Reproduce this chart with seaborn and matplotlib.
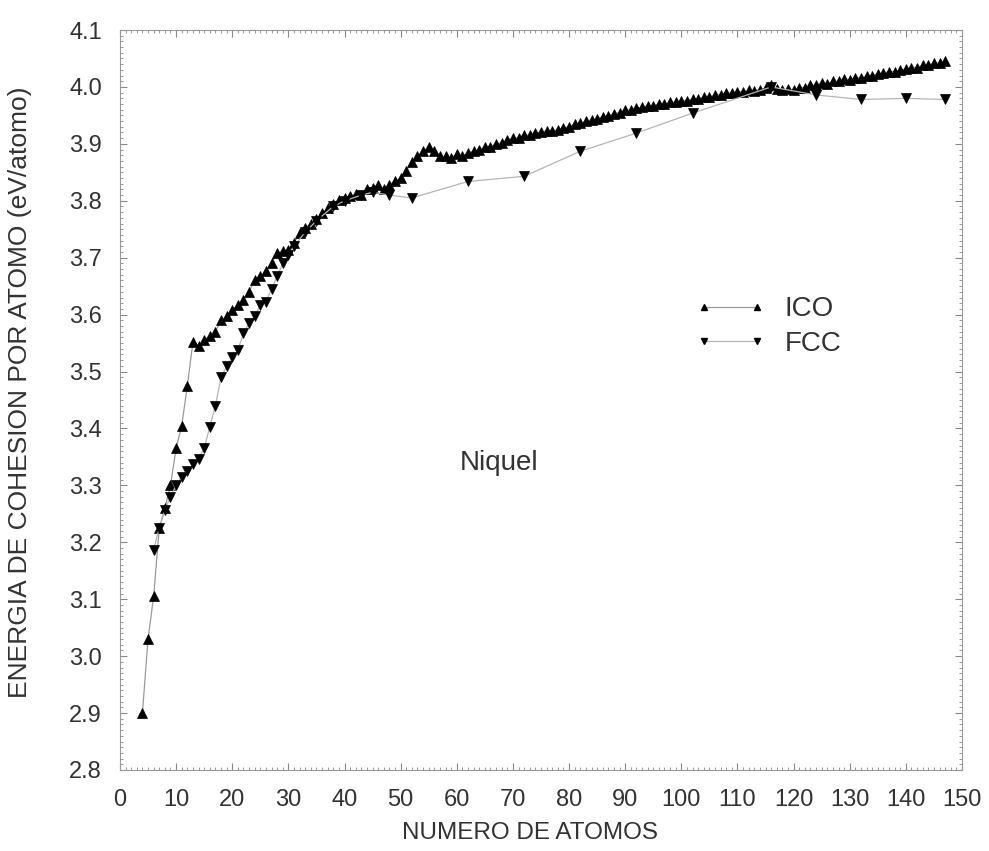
import numpy as np
import pandas as pd
import matplotlib
matplotlib.use("Agg")
import matplotlib.pyplot as plt
from matplotlib.lines import Line2D
from matplotlib.ticker import MultipleLocator, FormatStrFormatter
import seaborn as sns

# ---------------- DATA ----------------
ico_n = list(range(4, 148))
ico_e = [
    2.900, 3.030, 3.105, 3.225, 3.260, 3.300, 3.365, 3.405, 3.475, 3.552,  # 4-13
    3.545, 3.556, 3.562, 3.570, 3.590, 3.597, 3.608, 3.617, 3.626, 3.640,  # 14-23
    3.661, 3.667, 3.676, 3.690, 3.708, 3.712, 3.714, 3.726, 3.743, 3.752,  # 24-33
    3.760, 3.768, 3.778, 3.787, 3.795, 3.802, 3.805, 3.808, 3.812, 3.811,  # 34-43
    3.820, 3.823, 3.828, 3.820, 3.828, 3.835, 3.840, 3.852, 3.869, 3.878,  # 44-53
    3.887, 3.895, 3.887, 3.878, 3.878, 3.876, 3.882, 3.879, 3.884, 3.887,  # 54-63
    3.889, 3.894, 3.895, 3.900, 3.902, 3.906, 3.910, 3.911, 3.915, 3.915,  # 64-73
    3.919, 3.920, 3.923, 3.922, 3.925, 3.928, 3.930, 3.935, 3.936, 3.940,  # 74-83
    3.942, 3.944, 3.948, 3.949, 3.953, 3.955, 3.960, 3.959, 3.963, 3.964,  # 84-93
    3.967, 3.967, 3.970, 3.970, 3.973, 3.973, 3.976, 3.976, 3.979, 3.979,  # 94-103
    3.982, 3.982, 3.986, 3.986, 3.990, 3.989, 3.992, 3.991, 3.994, 3.993,  # 104-113
    3.995, 3.998, 4.004, 3.997, 3.995, 3.996, 3.995, 3.999, 3.999, 4.003,  # 114-123
    4.003, 4.007, 4.006, 4.010, 4.010, 4.014, 4.013, 4.016, 4.016, 4.019,  # 124-133
    4.020, 4.023, 4.024, 4.027, 4.027, 4.030, 4.031, 4.034, 4.034, 4.038,  # 134-143
    4.038, 4.042, 4.042, 4.045,                                            # 144-147
]

fcc_n = [6, 7, 8, 9, 10, 11, 12, 13, 14, 15, 16, 17, 18, 19, 20, 21, 22, 23,
         24, 25, 26, 27, 28, 29, 30, 31, 33, 35, 38, 40, 43, 45, 48, 52, 62,
         72, 82, 92, 102, 116, 124, 132, 140, 147]
fcc_e = [3.187, 3.225, 3.257, 3.280, 3.300, 3.315, 3.325, 3.337, 3.347, 3.365,
         3.403, 3.440, 3.490, 3.509, 3.525, 3.538, 3.567, 3.585, 3.597, 3.617,
         3.623, 3.645, 3.667, 3.690, 3.705, 3.720, 3.745, 3.765, 3.790, 3.800,
         3.810, 3.815, 3.810, 3.805, 3.834, 3.843, 3.887, 3.919, 3.954, 4.000,
         3.986, 3.978, 3.980, 3.978]
# --------------------------------------

df = pd.concat([
    pd.DataFrame({"N": ico_n, "E": ico_e, "serie": "ICO"}),
    pd.DataFrame({"N": fcc_n, "E": fcc_e, "serie": "FCC"}),
])

sns.set_theme(style="ticks")
plt.rcParams["font.family"] = ["Liberation Sans", "DejaVu Sans"]

fig = plt.figure(figsize=(9.89, 8.51), dpi=100)
ax = fig.add_axes([0.1213, 0.0952, 0.8514, 0.8695])

sns.lineplot(data=df, x="N", y="E", hue="serie", style="serie",
             markers={"ICO": "^", "FCC": "v"}, dashes=False,
             palette={"ICO": "#9a9a9a", "FCC": "#b5b5b5"},
             linewidth=0.9, markersize=6.5,
             markerfacecolor="black", markeredgecolor="black",
             markeredgewidth=0.5, legend=False, errorbar=None, ax=ax)

ax.set_xlim(0, 150)
ax.set_ylim(2.8, 4.1)
ax.xaxis.set_major_locator(MultipleLocator(10))
ax.xaxis.set_minor_locator(MultipleLocator(1))
ax.yaxis.set_major_locator(MultipleLocator(0.1))
ax.yaxis.set_minor_locator(MultipleLocator(0.01))
ax.yaxis.set_major_formatter(FormatStrFormatter("%.1f"))
ax.tick_params(which="both", direction="in", top=True, right=True,
               color="#888888", labelsize=17, labelcolor="#333333")
ax.tick_params(which="major", length=5, width=0.8)
ax.tick_params(axis="x", which="major", pad=14)
ax.tick_params(axis="y", which="major", pad=13)
ax.tick_params(which="minor", length=2.5, width=0.6)
for s in ax.spines.values():
    s.set_color("#999999")
    s.set_linewidth(0.8)

ax.set_xlabel("NUMERO DE ATOMOS", fontsize=17.5, color="#333333")
ax.set_ylabel("ENERGIA DE COHESION POR ATOMO (eV/atomo)", fontsize=19,
              color="#333333")
ax.xaxis.set_label_coords(0.487, -0.07)
ax.yaxis.set_label_coords(-0.104, 0.511)

ax.text(60.5, 3.34, "Niquel", fontsize=20, color="#333333", va="center")

handles = [
    Line2D([], [], color="#9a9a9a", lw=0.9, marker="^", ms=4.5,
           mfc="black", mec="black"),
    Line2D([], [], color="#b5b5b5", lw=0.9, marker="v", ms=4.5,
           mfc="black", mec="black"),
]
ax.legend(handles, ["ICO", "FCC"], loc="upper left",
          bbox_to_anchor=(0.684, 0.640), frameon=False, numpoints=2,
          handlelength=2.5, fontsize=20, labelcolor="#333333",
          labelspacing=0.3, handletextpad=0.7, borderpad=0,
          borderaxespad=0)

plt.savefig("out.png", dpi=100)
